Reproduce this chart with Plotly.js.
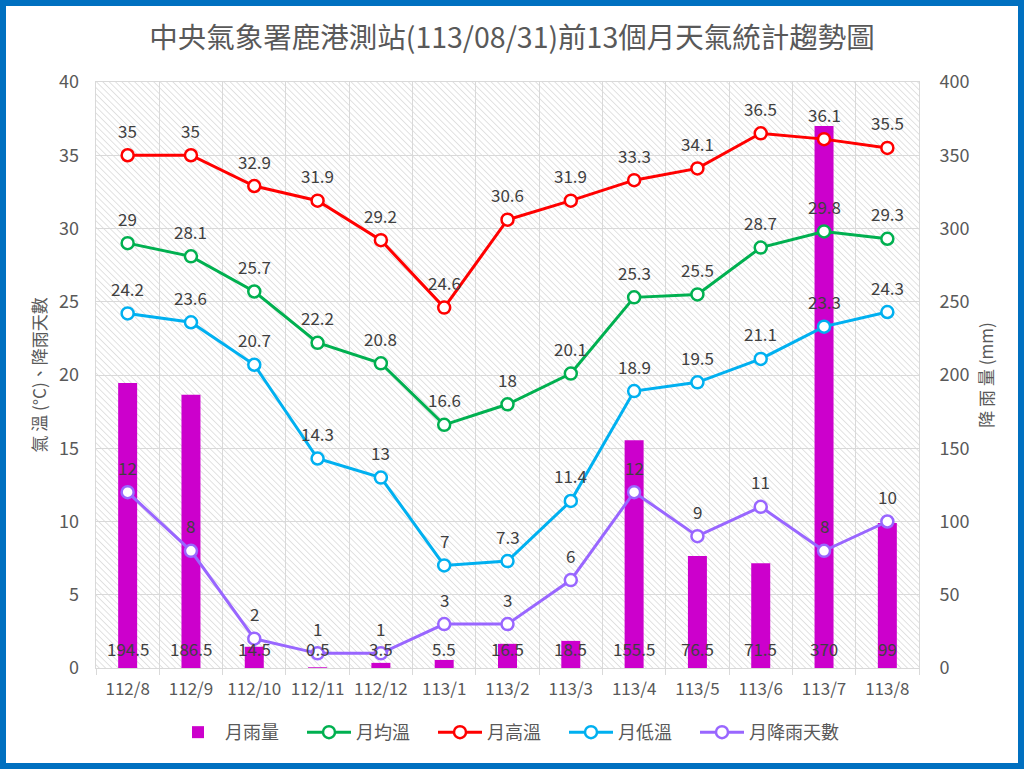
<!DOCTYPE html>
<html>
<head>
<meta charset="utf-8">
<script src="https://cdn.plot.ly/plotly-3.0.1.min.js"></script>
<style>
html,body{margin:0;padding:0;background:#fff;}
#wrap{width:1024px;height:769px;box-sizing:border-box;border:6px solid #0070C0;background:#fff;}
#chart{width:1012px;height:757px;}
</style>
</head>
<body>
<div id="wrap"><div id="chart"></div></div>
<script>
const months = ['112/8','112/9','112/10','112/11','112/12','113/1','113/2','113/3','113/4','113/5','113/6','113/7','113/8'];
const rainfall = [194.5, 186.5, 14.5, 0.5, 3.5, 5.5, 16.5, 18.5, 155.5, 76.5, 71.5, 370, 99];
const tempMean = [29, 28.1, 25.7, 22.2, 20.8, 16.6, 18, 20.1, 25.3, 25.5, 28.7, 29.8, 29.3];
const tempHigh = [35, 35, 32.9, 31.9, 29.2, 24.6, 30.6, 31.9, 33.3, 34.1, 36.5, 36.1, 35.5];
const tempLow = [24.2, 23.6, 20.7, 14.3, 13, 7, 7.3, 11.4, 18.9, 19.5, 21.1, 23.3, 24.3];
const rainDays = [12, 8, 2, 1, 1, 3, 3, 6, 12, 9, 11, 8, 10];
const seriesNames = ['月雨量', '月均溫', '月高溫', '月低溫', '月降雨天數'];

const FONT = '"Noto Sans CJK TC", "Noto Sans", sans-serif';
const GRID = '#d9d9d9';
const TXT = '#595959';
const LBL = '#404040';
const GAP = '\u3000';

function lineTrace(name, ys, color) {
  return {
    type: 'scatter', mode: 'lines+markers', name: name,
    x: months, y: ys, yaxis: 'y2',
    line: {color: color, width: 3},
    marker: {symbol: 'circle', size: 12, color: '#ffffff', line: {color: color, width: 2.5}},
    hoverinfo: 'skip'
  };
}

const traces = [
  {type: 'bar', name: seriesNames[0] + GAP, x: months, y: rainfall, yaxis: 'y',
   width: 0.3, marker: {color: '#CC00CC', line: {width: 0}}, hoverinfo: 'skip'},
  lineTrace(seriesNames[1] + GAP, tempMean, '#00B050'),
  lineTrace(seriesNames[2] + GAP, tempHigh, '#FF0000'),
  lineTrace(seriesNames[3] + GAP, tempLow, '#00B0F0'),
  lineTrace(seriesNames[4], rainDays, '#9966FF')
];

const annotations = [];
function addLabels(ys, yref, shift) {
  ys.forEach((v, i) => {
    annotations.push({x: months[i], y: v, xref: 'x', yref: yref, text: String(v),
      showarrow: false, yshift: shift, font: {family: FONT, size: 17, color: LBL}});
  });
}
addLabels(tempHigh, 'y2', 25);
addLabels(tempMean, 'y2', 25);
addLabels(tempLow, 'y2', 25);
addLabels(rainDays, 'y2', 25);
rainfall.forEach((v, i) => {
  annotations.push({x: months[i], y: 0, xref: 'x', yref: 'y', text: String(v),
    showarrow: false, yshift: 20, font: {family: FONT, size: 17, color: LBL}});
});

const svg = "<svg xmlns='http://www.w3.org/2000/svg' width='823' height='588'>" +
  "<defs><pattern id='p' width='4.5' height='4.5' patternUnits='userSpaceOnUse' patternTransform='rotate(-45)'>" +
  "<line x1='0' y1='-1' x2='0' y2='6' stroke='#cfcfcf' stroke-width='1.2'/></pattern></defs>" +
  "<rect width='823' height='588' fill='url(#p)'/></svg>";
const hatch = 'data:image/svg+xml;charset=utf-8,' + encodeURIComponent(svg);

const layout = {
  width: 1012, height: 757,
  margin: {l: 90, r: 99, t: 76, b: 93},
  paper_bgcolor: '#ffffff', plot_bgcolor: '#ffffff',
  font: {family: FONT, size: 17, color: TXT},
  title: {text: '中央氣象署鹿港測站(113/08/31)前13個月天氣統計趨勢圖',
    font: {family: FONT, size: 28.5, color: TXT},
    x: 0.5, xanchor: 'center', y: 0.958, yanchor: 'middle', yref: 'container'},
  barmode: 'overlay',
  showlegend: true,
  legend: {orientation: 'h', x: 0.5, xanchor: 'center', y: -0.11, yanchor: 'middle',
    font: {family: FONT, size: 18, color: TXT}, traceorder: 'normal', itemwidth: 44},
  xaxis: {type: 'category', range: [-0.5, 12.5], autorange: false, tickson: 'boundaries',
    showgrid: true, gridcolor: GRID, gridwidth: 1, tickangle: 0,
    showline: true, linecolor: GRID, mirror: true, ticks: 'outside', ticklen: 6, tickcolor: GRID,
    ticklabelstandoff: 6,
    tickfont: {family: FONT, size: 17, color: TXT}, fixedrange: true},
  yaxis: {side: 'right', range: [0, 400], dtick: 50, tick0: 0, showgrid: true, gridcolor: GRID,
    zeroline: false, showline: true, linecolor: GRID, mirror: true, ticks: '',
    ticklabelstandoff: 16,
    tickfont: {family: FONT, size: 18, color: TXT},
    title: {text: '降 雨 量 (mm)', font: {family: FONT, size: 17, color: TXT}, standoff: 12}},
  yaxis2: {overlaying: 'y', side: 'left', range: [0, 40], dtick: 5, tick0: 0, showgrid: false,
    zeroline: false, showline: false, ticks: '', ticklabelstandoff: 16,
    tickfont: {family: FONT, size: 18, color: TXT},
    title: {text: '氣 溫 (°C)、降雨天數', font: {family: FONT, size: 17, color: TXT}, standoff: 8}},
  images: [{source: hatch, xref: 'paper', yref: 'paper', x: 0, y: 1, sizex: 1, sizey: 1,
    xanchor: 'left', yanchor: 'top', sizing: 'stretch', layer: 'below'}],
  annotations: annotations
};

Plotly.newPlot('chart', traces, layout, {displayModeBar: false, staticPlot: true});
</script>
</body>
</html>
